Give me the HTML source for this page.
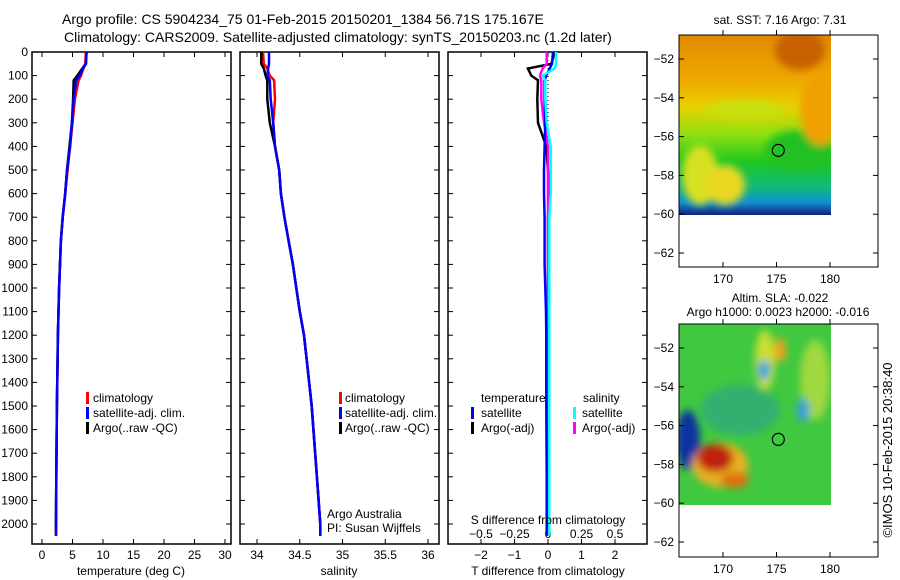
<!DOCTYPE html>
<html><head><meta charset="utf-8"><style>
body{margin:0;background:#fff;}
svg{display:block;font-family:"Liberation Sans",sans-serif;}
text{fill:#000;}
</style></head><body>
<svg id="fig" width="900" height="580" viewBox="0 0 900 580">
<defs>
<linearGradient id="sstg" x1="0" y1="0" x2="0" y2="1">
<stop offset="0" stop-color="#e08a00"/><stop offset="0.25" stop-color="#f0a800"/>
<stop offset="0.4" stop-color="#e8d000"/><stop offset="0.55" stop-color="#90e010"/>
<stop offset="0.7" stop-color="#20c820"/><stop offset="0.85" stop-color="#10b880"/>
<stop offset="0.93" stop-color="#1090d0"/><stop offset="1" stop-color="#102080"/>
</linearGradient>
<filter id="blur"><feGaussianBlur stdDeviation="4"/></filter>
<clipPath id="c1"><rect x="679" y="35" width="152" height="180"/></clipPath>
<clipPath id="c2"><rect x="679" y="324" width="152" height="181"/></clipPath>
</defs>
<text x="62" y="24" font-size="14">Argo profile: CS 5904234_75 01-Feb-2015 20150201_1384 56.71S 175.167E</text>
<text x="64" y="42" font-size="14">Climatology: CARS2009. Satellite-adjusted climatology: synTS_20150203.nc (1.2d later)</text>
<g id="plots"></g>
<g>
<text x="780" y="24" font-size="12" text-anchor="middle">sat. SST: 7.16 Argo: 7.31</text>
<g clip-path="url(#c1)">
<rect x="679" y="35" width="152" height="180" fill="url(#sstg)"/>
<g filter="url(#blur)">
<ellipse cx="700" cy="175" rx="18" ry="30" fill="#d8e020"/>
<ellipse cx="725" cy="185" rx="20" ry="20" fill="#e8d820"/>
<ellipse cx="745" cy="110" rx="40" ry="10" fill="#c8e010"/>
<ellipse cx="800" cy="150" rx="35" ry="20" fill="#20c020"/>
<ellipse cx="820" cy="110" rx="20" ry="35" fill="#f0a000"/>
<ellipse cx="800" cy="50" rx="25" ry="20" fill="#c86000"/>
</g>
</g>
<rect x="679" y="35" width="199" height="232" fill="none" stroke="#000"/>
</g>
<g>
<text x="780" y="302" font-size="12" text-anchor="middle">Altim. SLA: -0.022</text>
<text x="778" y="316" font-size="12" text-anchor="middle">Argo h1000: 0.0023 h2000: -0.016</text>
<g clip-path="url(#c2)">
<rect x="679" y="324" width="152" height="181" fill="#40c840"/>
<g filter="url(#blur)">
<ellipse cx="740" cy="410" rx="40" ry="25" fill="#30b070"/>
<ellipse cx="765" cy="360" rx="10" ry="30" fill="#c8e030"/>
<ellipse cx="815" cy="380" rx="15" ry="40" fill="#a0d840"/>
<ellipse cx="803" cy="410" rx="6" ry="12" fill="#30a0e0"/>
<ellipse cx="764" cy="370" rx="6" ry="10" fill="#30a0e0"/>
<ellipse cx="688" cy="440" rx="12" ry="30" fill="#1030a0"/>
<ellipse cx="720" cy="465" rx="28" ry="22" fill="#e8b020"/>
<ellipse cx="715" cy="458" rx="18" ry="14" fill="#c02010"/>
<ellipse cx="735" cy="480" rx="14" ry="8" fill="#e07010"/>
<ellipse cx="780" cy="350" rx="6" ry="12" fill="#f0a020"/>
</g>
</g>
<rect x="679" y="324" width="199" height="233" fill="none" stroke="#000"/>
</g>
<text transform="translate(892,450) rotate(-90)" font-size="13" text-anchor="middle">©IMOS 10-Feb-2015 20:38:40</text>
</svg>
<script>
// depth levels (m)
const depths=[0,50,70,100,120,200,300,400,500,600,700,800,900,1000,1100,1200,1300,1500,1800,2000,2050];
// temperature (deg C)
const tClim=[7.2,7.1,6.8,6.4,6.0,5.4,5.0,4.6,4.2,3.8,3.4,3.1,2.95,2.8,2.7,2.6,2.55,2.45,2.35,2.3,2.3];
const tSat =[7.3,7.2,6.7,6.2,5.6,5.2,4.9,4.6,4.1,3.8,3.4,3.1,2.95,2.8,2.7,2.6,2.55,2.45,2.35,2.3,2.3];
const tArgo=[7.3,7.2,6.6,5.8,5.2,5.1,4.9,4.5,4.1,3.8,3.4,3.1,2.95,2.8,2.7,2.6,2.55,2.45,2.35,2.3,2.3];
// salinity (psu)
const sClim=[34.07,34.08,34.12,34.15,34.2,34.21,34.19,34.21,34.26,34.28,34.32,34.37,34.42,34.46,34.5,34.55,34.58,34.64,34.70,34.74,34.74];
const sSat =[34.14,34.14,34.13,34.12,34.15,34.16,34.19,34.21,34.26,34.28,34.32,34.37,34.42,34.46,34.5,34.55,34.58,34.64,34.70,34.74,34.74];
const sArgo=[34.05,34.05,34.08,34.1,34.12,34.12,34.15,34.21,34.26,34.28,34.32,34.37,34.42,34.46,34.5,34.55,34.58,34.64,34.70,34.74,34.74];
// differences from climatology
const dTSat =[0.15,0.12,0.05,-0.05,-0.1,-0.1,-0.08,-0.1,-0.12,-0.12,-0.1,-0.1,-0.1,-0.08,-0.06,-0.05,-0.05,-0.05,-0.04,-0.04,-0.04];
const dTArgo=[0.2,0.1,-0.6,-0.5,-0.3,-0.32,-0.3,-0.05,0,0.05,0,0,0,0,0,0,0,0,0,0,0];
const dSSat =[0.06,0.06,0.05,-0.04,-0.02,-0.02,-0.01,0.02,0.02,0.02,0.01,0.01,0.01,0.01,0.01,0.01,0.01,0.01,0.01,0.01,0.01];
const dSArgo=[-0.01,-0.01,-0.04,-0.06,-0.05,-0.05,-0.03,0,0,0,0,0,0,0,0,0,0,0,0,0,0];
const depthTicks=[0,100,200,300,400,500,600,700,800,900,1000,1100,1200,1300,1400,1500,1600,1700,1800,1900,2000];
const tTicks=[0,5,10,15,20,25,30];
const sTicks=[34,34.5,35,35.5,36];
const dTTicks=[-2,-1,0,1,2];
const dSTicks=[-0.5,-0.25,0,0.25,0.5];
const dSTickLabels=["\u22120.5","\u22120.25","0","0.25","0.5"];

const NS="http://www.w3.org/2000/svg";
const g=document.getElementById('plots');
function mk(tag,attrs,parent){const e=document.createElementNS(NS,tag);for(const k in attrs)e.setAttribute(k,attrs[k]);(parent||g).appendChild(e);return e;}
const yD=d=>52+0.236*d;
const yTop=52,yBot=544;
const xT=v=>42+6.1*v, xS=v=>257+85.5*(v-34), xdT=v=>548+33.5*v, xdS=v=>548+134*v;

function panel(x0,x1,name){
  const r=mk('rect',{x:x0,y:yTop,width:x1-x0,height:yBot-yTop,fill:'none',stroke:'#000','stroke-width':1.5});
  
  
  depthTicks.forEach(d=>{
    mk('line',{x1:x0,x2:x0+5,y1:yD(d),y2:yD(d),stroke:'#000'});
    mk('line',{x1:x1,x2:x1-5,y1:yD(d),y2:yD(d),stroke:'#000'});
  });
}
function xticks(ticks,fx,labels,y,name){
  ticks.forEach((t,i)=>{
    mk('line',{x1:fx(t),x2:fx(t),y1:yBot,y2:yBot-5,stroke:'#000'});
    mk('line',{x1:fx(t),x2:fx(t),y1:yTop,y2:yTop+5,stroke:'#000'});
    const tx=mk('text',{x:fx(t),y:y,'font-size':12,'text-anchor':'middle'});
    tx.textContent=labels?labels[i]:String(t).replace('-','\u2212');
    
    
  });
}
function line(vals,fx,color,name,w){
  let d='';
  vals.forEach((v,i)=>{d+=(i?'L':'M')+fx(v).toFixed(1)+' '+yD(depths[i]).toFixed(1);});
  const p=mk('path',{d:d,fill:'none',stroke:color,'stroke-width':w||2.5});
  
  
}
function txt(x,y,s,name,anchor){
  const t=mk('text',{x:x,y:y,'font-size':12,'text-anchor':anchor||'start'});
  t.textContent=s;
  
  
}
function legMark(x,y,color){mk('rect',{x:x,y:y-10,width:3,height:12,fill:color});}

depthTicks.forEach(d=>{
  const t=mk('text',{x:28,y:yD(d)+4,'font-size':12,'text-anchor':'end'});
  t.textContent=d;
  
  
});

panel(32,231,'temperature-panel');
xticks(tTicks,xT,null,559,'temperature-x');
line(tClim,xT,'#f00','temperature-climatology');
line(tArgo,xT,'#000','temperature-argo');
line(tSat,xT,'#00f','temperature-satellite');
txt(131,575,'temperature (deg C)','temperature-x-title','middle');
legMark(86,402,'#f00');txt(93,402,'climatology','legend-climatology');
legMark(86,417,'#00f');txt(93,417,'satellite-adj. clim.','legend-satellite');
legMark(86,432,'#000');txt(93,432,'Argo(..raw -QC)','legend-argo');

panel(240,439,'salinity-panel');
xticks(sTicks,xS,null,559,'salinity-x');
line(sClim,xS,'#f00','salinity-climatology');
line(sArgo,xS,'#000','salinity-argo');
line(sSat,xS,'#00f','salinity-satellite');
txt(339,575,'salinity','salinity-x-title','middle');
legMark(339,402,'#f00');txt(345,402,'climatology','legend-climatology-2');
legMark(339,417,'#00f');txt(345,417,'satellite-adj. clim.','legend-satellite-2');
legMark(339,432,'#000');txt(345,432,'Argo(..raw -QC)','legend-argo-2');
txt(327,518,'Argo Australia','credit-line-1');
txt(327,532,'PI: Susan Wijffels','credit-line-2');

panel(448,647,'difference-panel');
xticks(dTTicks,xdT,null,559,'t-difference-x');
dSTicks.forEach((t,i)=>{
  const tx=mk('text',{x:xdS(t),y:538,'font-size':12,'text-anchor':'middle'});
  tx.textContent=dSTickLabels[i];
  
  
});
mk('line',{x1:548,x2:548,y1:yTop,y2:yD(400),stroke:'#000','stroke-dasharray':'1,3'});
line(dTArgo,xdT,'#000','t-difference-argo');
line(dSArgo,xdS,'#f0f','s-difference-argo');
line(dTSat,xdT,'#00f','t-difference-satellite');
line(dSSat,xdS,'#0ff','s-difference-satellite');
txt(548,524,'S difference from climatology','s-difference-title','middle');
txt(548,575,'T difference from climatology','t-difference-title','middle');
txt(481,402,'temperature','legend-temperature-header');
txt(583,402,'salinity','legend-salinity-header');
legMark(471,417,'#00f');txt(481,417,'satellite','legend-t-satellite');
legMark(471,432,'#000');txt(481,432,'Argo(-adj)','legend-t-argo');
legMark(573,417,'#0ff');txt(582,417,'satellite','legend-s-satellite');
legMark(573,432,'#f0f');txt(582,432,'Argo(-adj)','legend-s-argo');

const latTicks=[-52,-54,-56,-58,-60,-62];
const lonTicks=[170,175,180];
const argoLon=175.167, argoLat=-56.71;
const svg=document.getElementById('fig');
[0,289].forEach((off,mi)=>{
  const yL=v=>59+off+19.4*(-52-v), xL=v=>723+10.7*(v-170);
  latTicks.forEach(v=>{
    mk('line',{x1:679,x2:684,y1:yL(v),y2:yL(v),stroke:'#000'},svg);
    mk('line',{x1:878,x2:873,y1:yL(v),y2:yL(v),stroke:'#000'},svg);
    const t=mk('text',{x:674,y:yL(v)+4,'font-size':12,'text-anchor':'end'},svg);
    t.textContent=String(v).replace('-','\u2212');
    
    
  });
  lonTicks.forEach(v=>{
    const yb=off?557:267, yt=off?324:35;
    mk('line',{x1:xL(v),x2:xL(v),y1:yb,y2:yb-5,stroke:'#000'},svg);
    mk('line',{x1:xL(v),x2:xL(v),y1:yt,y2:yt-5,stroke:'#000'},svg);
    const t=mk('text',{x:xL(v),y:yb+16,'font-size':12,'text-anchor':'middle'},svg);
    t.textContent=v;
    
    
  });
  const c=mk('circle',{cx:xL(argoLon),cy:yL(argoLat),r:6,fill:'none',stroke:'#000','stroke-width':1.2},svg);
  
  
});
</script>
</body></html>
